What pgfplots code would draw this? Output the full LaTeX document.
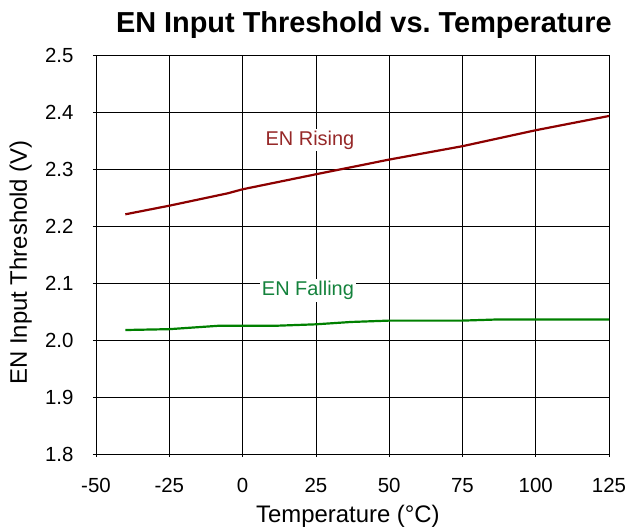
\documentclass[border=0pt]{standalone}
\usepackage{fontspec}
\setmainfont{Liberation Sans}
\usepackage{pgfplots}
\pgfplotsset{compat=1.18}
\definecolor{risecol}{RGB}{140,0,0}
\definecolor{risetxt}{RGB}{150,40,40}
\definecolor{fallcol}{RGB}{0,128,0}
\definecolor{falltxt}{RGB}{20,130,60}
\begin{document}
\frenchspacing
\begin{tikzpicture}
\begin{axis}[
  name=ax,
  scale only axis,
  width=513bp, height=399bp,
  xmin=-50, xmax=125, ymin=1.8, ymax=2.5,
  xtick={-50,-25,...,125},
  ytick={1.8,1.9,...,2.5},
  /pgf/number format/assume math mode=true,
  yticklabel style={/pgf/number format/fixed,/pgf/number format/fixed zerofill,/pgf/number format/precision=1, xshift=-16bp},
  xticklabel style={yshift=-18bp},
  tick label style={font=\fontsize{20.5}{24}\selectfont},
  major tick length=3bp,
  tick align=outside,
  tick style={black, line width=0.6bp},
  xtick pos=bottom, ytick pos=left,
  grid=major,
  major grid style={black, line width=0.6bp},
  axis line style={black, line width=0.8bp},
  xlabel={Temperature (°C)},
  ylabel={EN Input Threshold (V)},
  label style={font=\fontsize{24}{28}\selectfont},
  xlabel style={at={(axis description cs:0.491,0)}, anchor=base, yshift=-69bp},
  ylabel style={at={(axis description cs:-0.1345,0.48)}, anchor=base},
  title={EN Input Threshold vs. Temperature},
  title style={font=\fontsize{29}{34}\selectfont\bfseries, at={(axis description cs:0.522,1)}, anchor=base, yshift=17bp},
]
\addplot[risecol, line width=2.2bp] coordinates {
  (-40,2.2205) (-25,2.2356) (-5,2.2574) (0,2.2644) (25,2.2907)
  (50,2.3165) (75,2.340) (100,2.368) (125,2.393)
};
\addplot[fallcol, line width=2.2bp] coordinates {
  (-40,2.0175) (-25,2.019) (-8,2.025) (0,2.0251) (12,2.0251) (25,2.0275)
  (37,2.0316) (50,2.034) (75,2.034) (87,2.036) (100,2.036) (125,2.036)
};
\node[fill=white, inner sep=2bp, text=risetxt, font=\fontsize{20}{24}\selectfont] at (axis cs:23,2.351) {EN Rising};
\node[fill=white, inner sep=2bp, text=falltxt, font=\fontsize{20}{24}\selectfont] at (axis cs:22.3,2.087) {EN Falling};
\end{axis}
\pgfresetboundingbox
\path ([xshift=-96bp,yshift=-78bp]ax.south west) rectangle ([xshift=18bp,yshift=55bp]ax.north east);
\end{tikzpicture}
\end{document}
